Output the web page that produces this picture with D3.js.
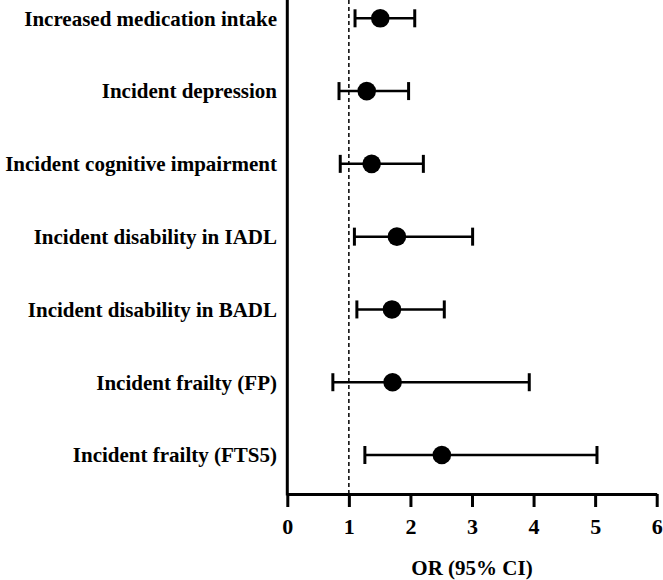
<!DOCTYPE html>
<html><head><meta charset="utf-8">
<script src="https://cdn.jsdelivr.net/npm/d3@7"></script>
<style>body{margin:0;background:#fff}svg{display:block}</style>
</head><body>
<svg id="c" width="663" height="580"></svg>
<script>
const categories = ["Increased medication intake","Incident depression","Incident cognitive impairment","Incident disability in IADL","Incident disability in BADL","Incident frailty (FP)","Incident frailty (FTS5)"];
const orValues = [1.51, 1.29, 1.37, 1.78, 1.70, 1.71, 2.51];
const ciLower = [1.10, 0.84, 0.86, 1.09, 1.13, 0.74, 1.26];
const ciUpper = [2.07, 1.97, 2.21, 3.01, 2.55, 3.93, 5.03];
const xTicks = [0,1,2,3,4,5,6];
const xTitle = "OR (95% CI)";

const svg = d3.select("#c");
const font = "'Liberation Serif','Times New Roman',serif";
const left = 287.3, right = 656.7, axisY = 494;
const x = d3.scaleLinear().domain([0,6]).range([left, right]);
const y = d3.scalePoint().domain(categories).range([18.3, 455]);

// x axis
const xAxis = svg.append("g").attr("transform", `translate(0,${axisY})`)
  .call(d3.axisBottom(x).tickValues(xTicks).tickFormat(d3.format("d")).tickSize(13).tickPadding(11).tickSizeOuter(0));
xAxis.select(".domain").attr("stroke","#000").attr("stroke-width",3);
xAxis.selectAll(".tick line").attr("stroke","#000").attr("stroke-width",3);
xAxis.selectAll(".tick text").attr("font-family",font).attr("font-weight","bold").attr("font-size",22).attr("fill","#000");

// y axis line
svg.append("line").attr("x1",left).attr("x2",left).attr("y1",0).attr("y2",axisY+1.5)
  .attr("stroke","#000").attr("stroke-width",3);

// reference line
svg.append("line").attr("x1",x(1)).attr("x2",x(1)).attr("y1",0).attr("y2",axisY)
  .attr("stroke","#000").attr("stroke-width",1.5).attr("stroke-dasharray","4,3");

// labels
svg.append("g").selectAll("text").data(categories).join("text")
  .attr("x",277).attr("y",d=>y(d)).attr("dy","0.35em").attr("text-anchor","end")
  .attr("font-family",font).attr("font-weight","bold").attr("font-size",21).attr("fill","#000")
  .text(d=>d);

const rows = categories.map((c,i)=>({c, v:orValues[i], lo:ciLower[i], hi:ciUpper[i]}));
const g = svg.append("g");
g.selectAll(".ci").data(rows).join("line")
  .attr("x1",d=>x(d.lo)).attr("x2",d=>x(d.hi)).attr("y1",d=>y(d.c)).attr("y2",d=>y(d.c))
  .attr("stroke","#000").attr("stroke-width",2.5);
["lo","hi"].forEach(k=>{
  g.selectAll(".cap"+k).data(rows).join("line")
    .attr("x1",d=>x(d[k])).attr("x2",d=>x(d[k])).attr("y1",d=>y(d.c)-9).attr("y2",d=>y(d.c)+9)
    .attr("stroke","#000").attr("stroke-width",3);
});
g.selectAll("circle").data(rows).join("circle")
  .attr("cx",d=>x(d.v)).attr("cy",d=>y(d.c)).attr("r",9.3).attr("fill","#000");

svg.append("text").attr("x",(left+right)/2).attr("y",568).attr("dy","0.35em").attr("text-anchor","middle")
  .attr("font-family",font).attr("font-weight","bold").attr("font-size",21).attr("fill","#000").text(xTitle);
</script>
</body></html>
